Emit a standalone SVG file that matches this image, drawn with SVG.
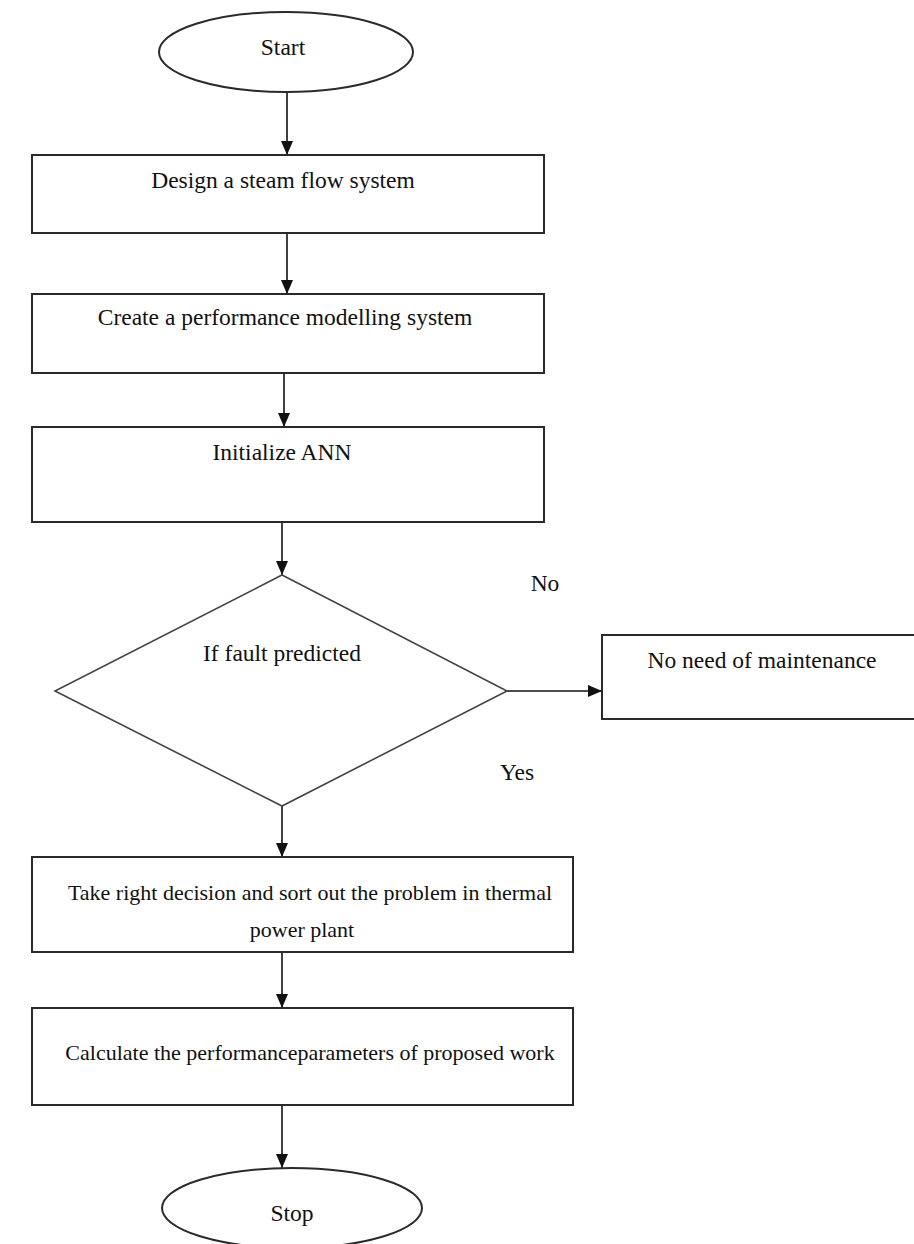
<svg xmlns="http://www.w3.org/2000/svg" width="914" height="1244" viewBox="0 0 914 1244">
<style>
.shape{fill:#fff;stroke:#2a2a2a;stroke-width:2}
.dia{fill:#fff;stroke:#444;stroke-width:1.6}
.conn{stroke:#111;stroke-width:1.6;fill:none}
.t{font-family:"Liberation Serif","Times New Roman",serif;font-size:23.5px;fill:#111;text-anchor:middle}
.tb{font-family:"Liberation Serif","Times New Roman",serif;font-size:22px;fill:#111;text-anchor:middle}
</style>
<defs>
<marker id="ah" viewBox="0 0 14 12" refX="14" refY="6" markerWidth="14" markerHeight="12" markerUnits="userSpaceOnUse" orient="auto">
<path d="M0,0 L14,6 L0,12 z" fill="#111"/>
</marker>
</defs>
<rect width="914" height="1244" fill="#fff"/>
<g id="connectors">
<line class="conn" x1="287" y1="92" x2="287" y2="155" marker-end="url(#ah)"/>
<line class="conn" x1="287" y1="233" x2="287" y2="294" marker-end="url(#ah)"/>
<line class="conn" x1="284" y1="373" x2="284" y2="427" marker-end="url(#ah)"/>
<line class="conn" x1="282" y1="522" x2="282" y2="575" marker-end="url(#ah)"/>
<line class="conn" x1="507" y1="691" x2="602" y2="691" marker-end="url(#ah)"/>
<line class="conn" x1="282" y1="806" x2="282" y2="857" marker-end="url(#ah)"/>
<line class="conn" x1="282" y1="952" x2="282" y2="1008" marker-end="url(#ah)"/>
<line class="conn" x1="282" y1="1105" x2="282" y2="1168" marker-end="url(#ah)"/>
</g>
<g id="start">
<ellipse class="shape" cx="286" cy="52" rx="127" ry="40"/>
<text class="t" x="283" y="55">Start</text>
</g>
<g id="design">
<rect class="shape" x="32" y="155" width="512" height="78"/>
<text class="t" x="283" y="188">Design a steam flow system</text>
</g>
<g id="create">
<rect class="shape" x="32" y="294" width="512" height="79"/>
<text class="t" x="285" y="325">Create a performance  modelling system</text>
</g>
<g id="init">
<rect class="shape" x="32" y="427" width="512" height="95"/>
<text class="t" x="282" y="460">Initialize ANN</text>
</g>
<g id="decision">
<polygon class="dia" points="282,575 507,691 282,806 55,691"/>
<text class="t" x="282" y="661">If fault predicted</text>
</g>
<text class="t" x="545" y="591">No</text>
<text class="t" x="517" y="780">Yes</text>
<g id="nomaint">
<rect class="shape" x="602" y="635" width="322" height="84"/>
<text class="t" x="762" y="668">No need of maintenance</text>
</g>
<g id="decide">
<rect class="shape" x="32" y="857" width="541" height="95"/>
<text class="tb" x="310" y="900">Take right decision and sort out the problem in thermal</text>
<text class="tb" x="302" y="937">power plant</text>
</g>
<g id="calc">
<rect class="shape" x="32" y="1008" width="541" height="97"/>
<text class="tb" x="310" y="1060">Calculate the performanceparameters of proposed work</text>
</g>
<g id="stop">
<ellipse class="shape" cx="292" cy="1208" rx="130" ry="40"/>
<text class="t" x="292" y="1221">Stop</text>
</g>
</svg>
